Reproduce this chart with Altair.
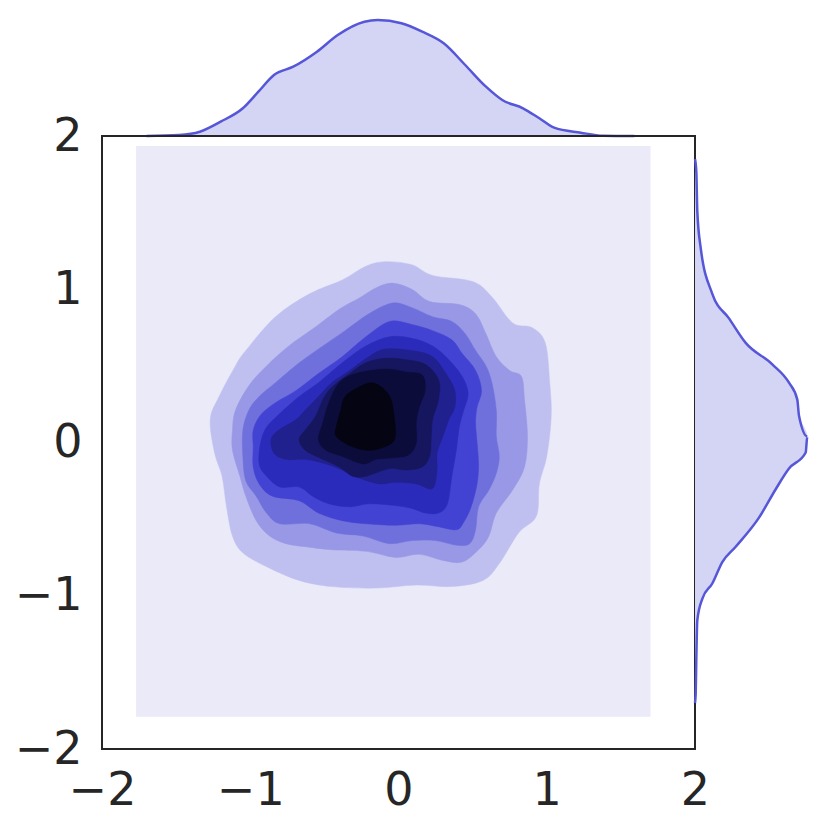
import altair as alt
import pandas as pd

# ---- contour levels (outer -> inner), vertices in data coordinates ----
LEVEL_1 = [(-0.09, 1.18), (0.09, 1.16), (0.23, 1.09), (0.50, 1.05), (0.63, 0.95), (0.77, 0.78),
           (0.90, 0.75), (0.99, 0.65), (1.02, 0.39), (1.03, 0.17), (1.00, -0.09), (0.95, -0.27),
           (0.93, -0.48), (0.81, -0.59), (0.68, -0.79), (0.57, -0.90), (0.36, -0.94), (0.12, -0.93),
           (-0.15, -0.95), (-0.45, -0.94), (-0.67, -0.90), (-0.89, -0.81), (-1.05, -0.72), (-1.12, -0.61),
           (-1.16, -0.42), (-1.19, -0.22), (-1.24, -0.07), (-1.27, 0.15), (-1.21, 0.30), (-1.10, 0.50),
           (-1.03, 0.60), (-0.83, 0.82), (-0.60, 0.97), (-0.38, 1.06), (-0.22, 1.15)]
LEVEL_2 = [(-0.04, 1.04), (0.09, 1.00), (0.21, 0.92), (0.41, 0.90), (0.52, 0.84), (0.59, 0.71),
           (0.66, 0.56), (0.75, 0.47), (0.83, 0.43), (0.85, 0.28), (0.87, 0.04), (0.85, -0.16),
           (0.77, -0.31), (0.66, -0.46), (0.61, -0.61), (0.54, -0.70), (0.43, -0.78), (0.30, -0.77),
           (0.14, -0.73), (-0.02, -0.75), (-0.22, -0.71), (-0.45, -0.70), (-0.63, -0.68), (-0.76, -0.66),
           (-0.87, -0.61), (-0.96, -0.51), (-1.03, -0.35), (-1.07, -0.22), (-1.12, -0.05), (-1.12, 0.08),
           (-1.10, 0.21), (-1.01, 0.37), (-0.89, 0.50), (-0.74, 0.63), (-0.58, 0.74), (-0.40, 0.87),
           (-0.27, 0.94), (-0.15, 1.01)]
LEVEL_3 = [(-0.04, 0.91), (0.09, 0.88), (0.23, 0.82), (0.36, 0.79), (0.45, 0.71), (0.52, 0.60),
           (0.59, 0.50), (0.63, 0.39), (0.66, 0.21), (0.66, 0.04), (0.68, -0.09), (0.66, -0.20),
           (0.61, -0.31), (0.54, -0.42), (0.52, -0.57), (0.48, -0.66), (0.39, -0.67), (0.25, -0.64),
           (0.09, -0.64), (-0.06, -0.66), (-0.24, -0.61), (-0.42, -0.59), (-0.60, -0.53), (-0.80, -0.53),
           (-0.89, -0.46), (-0.96, -0.35), (-1.03, -0.25), (-1.05, -0.09), (-1.05, 0.08), (-1.01, 0.21),
           (-0.94, 0.30), (-0.83, 0.39), (-0.67, 0.52), (-0.51, 0.63), (-0.36, 0.73), (-0.20, 0.84)]
LEVEL_4 = [(-0.06, 0.79), (0.09, 0.77), (0.23, 0.73), (0.36, 0.67), (0.43, 0.58), (0.52, 0.47),
           (0.56, 0.34), (0.53, 0.23), (0.52, 0.13), (0.53, 0.00), (0.54, -0.14), (0.53, -0.27),
           (0.49, -0.42), (0.44, -0.52), (0.39, -0.57), (0.27, -0.55), (0.14, -0.53), (-0.02, -0.54),
           (-0.22, -0.53), (-0.38, -0.51), (-0.54, -0.46), (-0.67, -0.38), (-0.85, -0.35), (-0.94, -0.27),
           (-0.98, -0.16), (-0.98, -0.03), (-0.98, 0.08), (-0.93, 0.18), (-0.83, 0.26), (-0.69, 0.34),
           (-0.54, 0.45), (-0.38, 0.56), (-0.22, 0.69)]
LEVEL_5 = [(-0.06, 0.69), (0.09, 0.68), (0.23, 0.63), (0.34, 0.54), (0.43, 0.43), (0.47, 0.32),
           (0.44, 0.21), (0.41, 0.10), (0.39, -0.05), (0.36, -0.22), (0.33, -0.40), (0.27, -0.46),
           (0.18, -0.46), (0.09, -0.43), (-0.04, -0.41), (-0.20, -0.40), (-0.33, -0.42), (-0.47, -0.40),
           (-0.58, -0.35), (-0.67, -0.29), (-0.80, -0.29), (-0.89, -0.22), (-0.94, -0.14), (-0.93, 0.00),
           (-0.89, 0.10), (-0.80, 0.19), (-0.67, 0.30), (-0.54, 0.39), (-0.38, 0.52), (-0.22, 0.63)]
LEVEL_6 = [(-0.09, 0.61), (0.09, 0.60), (0.23, 0.56), (0.32, 0.45), (0.38, 0.34), (0.38, 0.23),
           (0.34, 0.15), (0.30, 0.04), (0.26, -0.07), (0.26, -0.18), (0.23, -0.30), (0.12, -0.27),
           (-0.02, -0.26), (-0.13, -0.27), (-0.27, -0.23), (-0.38, -0.18), (-0.49, -0.14), (-0.63, -0.11),
           (-0.76, -0.11), (-0.84, -0.07), (-0.86, 0.02), (-0.81, 0.08), (-0.69, 0.15), (-0.63, 0.21),
           (-0.54, 0.30), (-0.45, 0.39), (-0.33, 0.47), (-0.20, 0.56)]
LEVEL_7 = [(-0.09, 0.55), (0.05, 0.54), (0.18, 0.51), (0.27, 0.41), (0.27, 0.28), (0.23, 0.15),
           (0.22, 0.02), (0.21, -0.09), (0.16, -0.16), (0.05, -0.18), (-0.06, -0.17), (-0.22, -0.22),
           (-0.31, -0.22), (-0.40, -0.16), (-0.51, -0.11), (-0.63, -0.05), (-0.67, 0.02), (-0.63, 0.08),
           (-0.56, 0.17), (-0.51, 0.28), (-0.45, 0.36), (-0.33, 0.45), (-0.22, 0.52)]
LEVEL_8 = [(-0.09, 0.48), (0.05, 0.46), (0.16, 0.44), (0.18, 0.34), (0.14, 0.23), (0.12, 0.13),
           (0.12, 0.00), (0.07, -0.08), (-0.04, -0.10), (-0.15, -0.11), (-0.24, -0.14), (-0.38, -0.09),
           (-0.49, -0.05), (-0.54, 0.02), (-0.51, 0.13), (-0.47, 0.26), (-0.40, 0.39), (-0.29, 0.45)]
LEVEL_9 = [(-0.18, 0.39), (-0.10, 0.35), (-0.05, 0.28), (-0.03, 0.17), (-0.02, 0.06), (-0.04, 0.00),
           (-0.13, -0.04), (-0.22, -0.05), (-0.33, -0.02), (-0.42, 0.04), (-0.42, 0.10), (-0.39, 0.21),
           (-0.36, 0.30), (-0.27, 0.36)]

LEVELS = [LEVEL_1, LEVEL_2, LEVEL_3, LEVEL_4, LEVEL_5, LEVEL_6, LEVEL_7, LEVEL_8, LEVEL_9]
LEVEL_COLORS = ["#C0C0F0", "#9898E6", "#7070DC", "#4343D3", "#2B2BBB",
                "#20208F", "#16165F", "#0C0C3A", "#040412"]

# lowest density band (grid extent)
BG_X = [-1.77, 1.70]
BG_Y = [-1.79, 1.935]
BG_COLOR = "#EAEAF9"

# ---- marginal densities (relative units) ----
TOP_X = [-1.70, -1.48, -1.34, -1.20, -1.05, -0.945, -0.84, -0.71, -0.55, -0.41, -0.23, -0.14,
         0.02, 0.16, 0.305, 0.45, 0.59, 0.70, 0.84, 0.95, 1.05, 1.23, 1.38, 1.59]
TOP_D = [0, 1, 4.3, 14.3, 27.7, 44.3, 61, 69.3, 84.3, 101, 114.3, 116,
         112.7, 104.3, 92.7, 71, 49.3, 36, 27.7, 17.7, 8.3, 3.3, 0.3, 0]

RIGHT_Y = [1.85, 1.77, 1.51, 1.27, 0.97, 0.81, 0.65, 0.51, 0.39, 0.28, 0.175, 0.04,
           -0.065, -0.17, -0.305, -0.49, -0.68, -0.78, -0.92, -1.02, -1.16, -1.42, -1.64, -1.70]
RIGHT_D = [0, 1.3, 2.3, 5.7, 17.3, 34, 50.7, 77.3, 94, 102.3, 104, 112.3,
           110.7, 94, 80.7, 64, 40.7, 27.3, 17.3, 7.3, 2.3, 1.3, 0.7, 0]

TICKS = [-2, -1, 0, 1, 2]

FONT = "DejaVu Sans"
TXT = "#262626"
MARG_FILL = "#D4D4F4"
MARG_LINE = "#5656D8"

xs = alt.Scale(domain=[-2, 2], nice=False, zero=False)
ys = alt.Scale(domain=[-2, 2], nice=False, zero=False)

x_axis = alt.Axis(values=TICKS, title=None, grid=False, ticks=False, tickSize=0, domain=False,
                  labelFontSize=46, labelFont=FONT, labelColor=TXT, labelPadding=19, format="d",
                  labelFlush=False, labelOverlap=False)
y_axis = alt.Axis(values=TICKS, title=None, grid=False, ticks=False, tickSize=0, domain=False,
                  labelFontSize=46, labelFont=FONT, labelColor=TXT, labelPadding=20, format="d",
                  labelFlush=False, labelOverlap=False)

NO_FRAME = alt.ViewBackground(stroke="transparent", strokeWidth=0)

bg_df = pd.DataFrame({"x": [BG_X[0]], "x2": [BG_X[1]], "y": [BG_Y[0]], "y2": [BG_Y[1]]})
bg = alt.Chart(bg_df).mark_rect(color=BG_COLOR).encode(
    x=alt.X("x:Q", scale=xs, axis=x_axis), x2="x2:Q",
    y=alt.Y("y:Q", scale=ys, axis=y_axis), y2="y2:Q")

layers = [bg]
for poly, col in zip(LEVELS, LEVEL_COLORS):
    df = pd.DataFrame({"x": [p[0] for p in poly], "y": [p[1] for p in poly],
                       "i": list(range(len(poly)))})
    layers.append(
        alt.Chart(df).mark_line(fill=col, stroke=col, strokeWidth=0.5,
                                interpolate="cardinal-closed").encode(
            x=alt.X("x:Q", scale=xs, axis=x_axis),
            y=alt.Y("y:Q", scale=ys, axis=y_axis),
            order="i:Q")
    )

main = alt.layer(*layers).properties(
    width=593, height=613,
    view=alt.ViewBackground(stroke=TXT, strokeWidth=2, strokeOpacity=1))

top_df = pd.DataFrame({"x": TOP_X, "d": TOP_D})
top_base = alt.Chart(top_df).encode(
    x=alt.X("x:Q", scale=xs, axis=None),
    y=alt.Y("d:Q", scale=alt.Scale(domain=[0, 123], nice=False), axis=None))
top = alt.layer(
    top_base.mark_area(color=MARG_FILL, interpolate="monotone"),
    top_base.mark_line(color=MARG_LINE, strokeWidth=2.5, interpolate="monotone"),
).properties(width=593, height=123, view=NO_FRAME)

right_df = pd.DataFrame({"y": RIGHT_Y, "d": RIGHT_D, "i": list(range(len(RIGHT_Y)))})
right_base = alt.Chart(right_df).encode(
    y=alt.Y("y:Q", scale=ys, axis=None),
    x=alt.X("d:Q", scale=alt.Scale(domain=[0, 119], nice=False), axis=None))
right = alt.layer(
    right_base.mark_area(color=MARG_FILL, orient="horizontal", interpolate="monotone"),
    right_base.mark_line(color=MARG_LINE, strokeWidth=2.5, interpolate="monotone").encode(order="i:Q"),
).properties(width=119, height=613, view=NO_FRAME)

blank = alt.Chart(pd.DataFrame({"a": [0]})).mark_point(opacity=0).encode(
    x=alt.X("a:Q", axis=None), y=alt.Y("a:Q", axis=None)).properties(
    width=119, height=123, view=NO_FRAME)

chart = alt.concat(
    top, blank, main, right,
    columns=2, spacing=0, bounds="flush",
).configure_view(stroke="transparent").configure(background="white")

chart.save("out.html", embed_options={"renderer": "svg", "actions": False})
